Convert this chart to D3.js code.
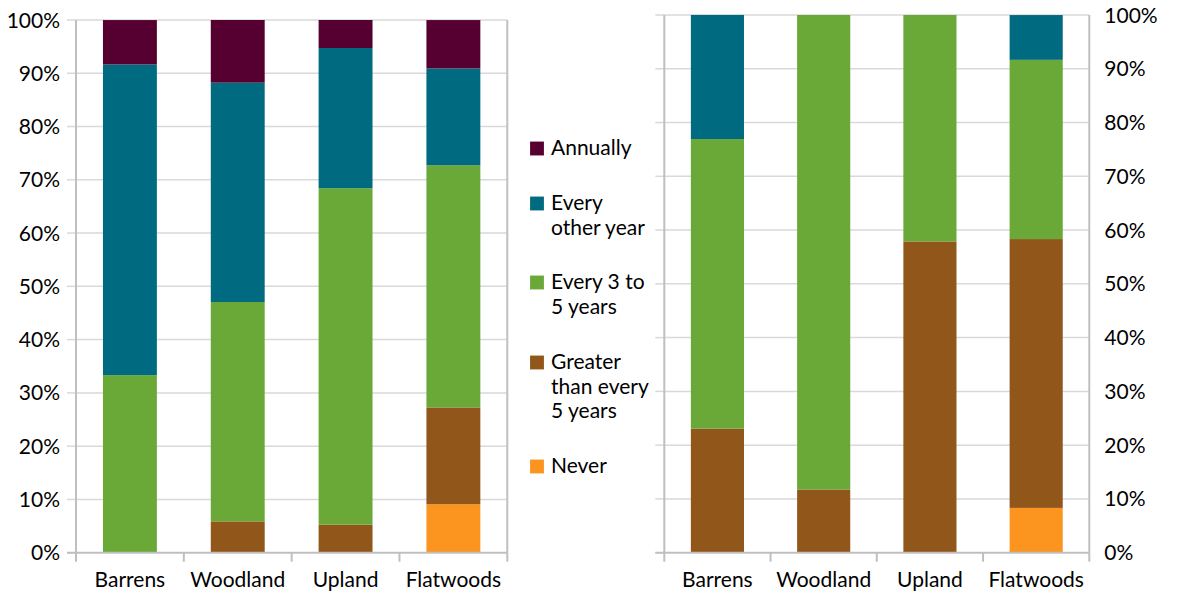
<!DOCTYPE html>
<html>
<head>
<meta charset="utf-8">
<script src="https://cdn.jsdelivr.net/npm/d3@7"></script>
<style>
  html, body { margin: 0; padding: 0; background: #fff; }
  svg { display: block; font-family: Lato, "Open Sans", sans-serif; }
</style>
</head>
<body>
<svg id="chart" width="1198" height="594"></svg>
<script>
// Habitat categories shared by both panels
const categories = ["Barrens", "Woodland", "Upland", "Flatwoods"];

// Frequency classes, bottom of the stack first
const seriesNames = ["Never", "Greater than every 5 years", "Every 3 to 5 years", "Every other year", "Annually"];
const seriesColors = ["#fb9520", "#91561a", "#6aa937", "#006b80", "#560032"];

// Left panel: share (%) per category for each series
const leftNever      = [0, 0, 0, 9.09];
const leftGreater    = [0, 5.88, 5.26, 18.18];
const leftEvery3to5  = [33.33, 41.18, 63.16, 45.45];
const leftEveryOther = [58.33, 41.18, 26.32, 18.18];
const leftAnnually   = [8.33, 11.76, 5.26, 9.09];

// Right panel: share (%) per category for each series
const rightNever      = [0, 0, 0, 8.33];
const rightGreater    = [23.08, 11.76, 57.89, 50.0];
const rightEvery3to5  = [53.85, 88.24, 42.11, 33.33];
const rightEveryOther = [23.08, 0, 0, 8.33];
const rightAnnually   = [0, 0, 0, 0];

// Percent axis ticks
const yTicks = [0, 10, 20, 30, 40, 50, 60, 70, 80, 90, 100];

// Legend entries, wrapped into lines
const legendLines = [
  ["Annually"],
  ["Every", "other year"],
  ["Every 3 to", "5 years"],
  ["Greater", "than every", "5 years"],
  ["Never"]
];
const legendColors = ["#560032", "#006b80", "#6aa937", "#91561a", "#fb9520"];

const svg = d3.select("#chart");

function buildRows(seriesArrays) {
  return categories.map((c, i) => {
    const row = { category: c };
    seriesNames.forEach((s, k) => { row[s] = seriesArrays[k][i]; });
    return row;
  });
}

function drawPanel(opts) {
  const { rows, x0, x1, yTop, yBottom, labelSide } = opts;
  const g = svg.append("g");

  const x = d3.scaleBand().domain(categories).range([x0, x1])
    .paddingInner(0.5).paddingOuter(0.25);
  const y = d3.scaleLinear().domain([0, 100]).range([yBottom, yTop]);

  // horizontal gridlines
  g.append("g").selectAll("line").data(yTicks.filter(t => t > 0)).join("line")
    .attr("x1", x0).attr("x2", x1)
    .attr("y1", d => y(d)).attr("y2", d => y(d))
    .attr("stroke", "#d9d9d9").attr("stroke-width", 1.5);

  // stacked bars
  const stack = d3.stack().keys(seriesNames);
  const layers = stack(rows);
  g.append("g").selectAll("g").data(layers).join("g")
    .attr("fill", (d, i) => seriesColors[i])
    .selectAll("rect").data(d => d).join("rect")
    .attr("x", d => x(d.data.category))
    .attr("width", x.bandwidth())
    .attr("y", d => y(d[1]))
    .attr("height", d => Math.max(0, y(d[0]) - y(d[1])));

  // left tick marks
  g.append("g").selectAll("line").data(yTicks).join("line")
    .attr("x1", x0 - 9).attr("x2", x0)
    .attr("y1", d => y(d)).attr("y2", d => y(d))
    .attr("stroke", "#d9d9d9").attr("stroke-width", 1.5);

  // category axis with boundary ticks
  const step = x.step();
  const bounds = d3.range(categories.length + 1).map(i => x0 + i * step);
  g.append("g").selectAll("line").data(bounds).join("line")
    .attr("x1", d => d).attr("x2", d => d)
    .attr("y1", yBottom).attr("y2", yBottom + 9)
    .attr("stroke", "#bfbfbf").attr("stroke-width", 2);
  g.append("line")
    .attr("x1", x0 - 9).attr("x2", x1)
    .attr("y1", yBottom).attr("y2", yBottom)
    .attr("stroke", "#bfbfbf").attr("stroke-width", 2);

  // plot side borders
  [x0, x1].forEach(xx => {
    g.append("line").attr("x1", xx).attr("x2", xx)
      .attr("y1", yTop).attr("y2", yBottom)
      .attr("stroke", "#bfbfbf").attr("stroke-width", 2);
  });

  // category labels
  g.append("g").selectAll("text").data(categories).join("text")
    .attr("x", d => x(d) + x.bandwidth() / 2)
    .attr("y", yBottom + 34)
    .attr("text-anchor", "middle")
    .attr("font-size", 21)
    .attr("fill", "#000")
    .text(d => d);

  // percent labels
  const fmt = d => d + "%";
  const lab = g.append("g").selectAll("text").data(yTicks).join("text")
    .attr("y", d => y(d))
    .attr("dy", "0.36em")
    .attr("font-size", 21)
    .attr("fill", "#000")
    .text(fmt);
  if (labelSide === "left") {
    lab.attr("x", x0 - 16).attr("text-anchor", "end");
  } else {
    lab.attr("x", x1 + 15).attr("text-anchor", "start");
  }
}

drawPanel({
  rows: buildRows([leftNever, leftGreater, leftEvery3to5, leftEveryOther, leftAnnually]),
  x0: 76, x1: 507.3, yTop: 20, yBottom: 552.7, labelSide: "left"
});

drawPanel({
  rows: buildRows([rightNever, rightGreater, rightEvery3to5, rightEveryOther, rightAnnually]),
  x0: 664.3, x1: 1089.3, yTop: 15, yBottom: 552.7, labelSide: "right"
});

// legend
const legendTops = [155, 210, 289, 369, 473];
const legend = svg.append("g");
legendLines.forEach((lines, i) => {
  const base = legendTops[i];
  legend.append("rect")
    .attr("x", 530).attr("y", base - 13.5)
    .attr("width", 14).attr("height", 14)
    .attr("fill", legendColors[i])
    .attr("stroke", "#ffffff").attr("stroke-opacity", 0.3).attr("stroke-width", 0.5);
  const t = legend.append("text")
    .attr("x", 551).attr("y", base)
    .attr("font-size", 21).attr("fill", "#000");
  lines.forEach((ln, j) => {
    t.append("tspan").attr("x", 551).attr("y", base + j * 24.5).text(ln);
  });
});
</script>
</body>
</html>
